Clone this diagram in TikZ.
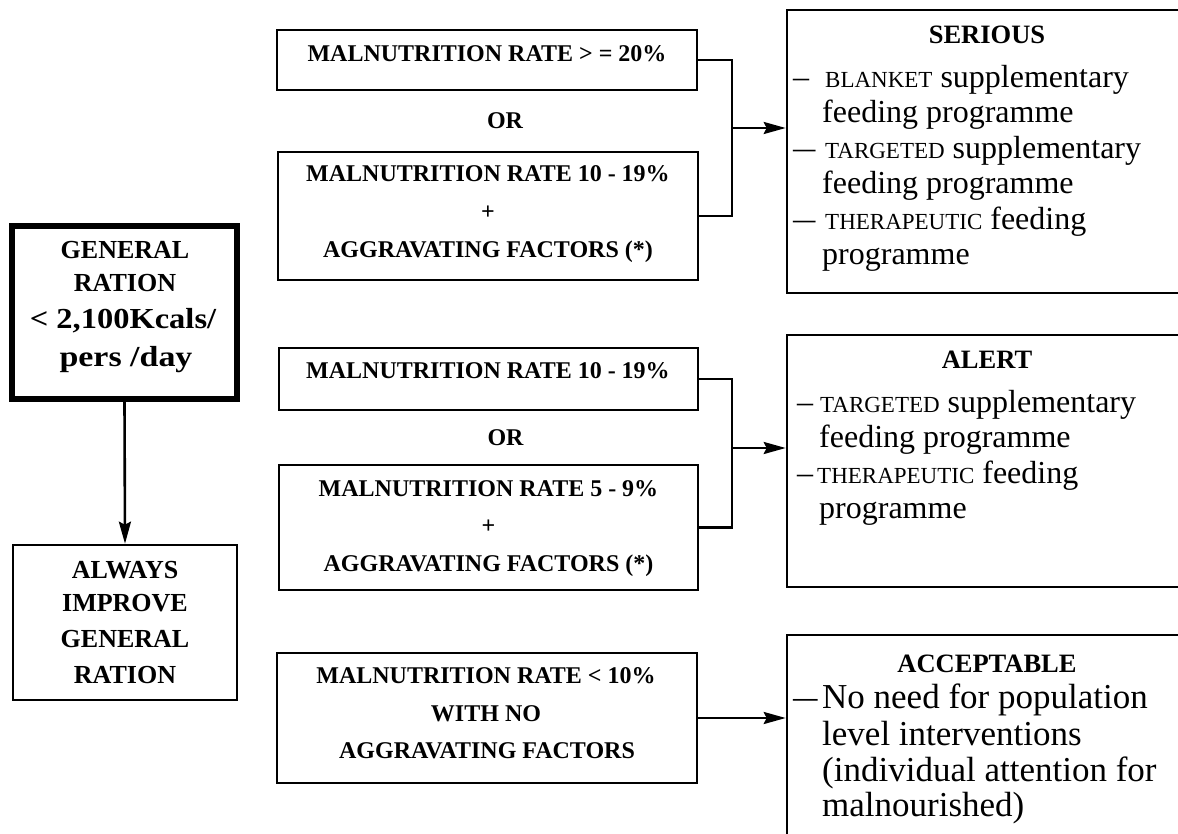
\documentclass[tikz,border=0pt]{standalone}
\usepackage{fontspec}
\setmainfont{Liberation Serif}
\usepackage{graphicx}
\usetikzlibrary{arrows.meta}
\tikzset{
  box/.style={draw, line width=2.6pt, rectangle, inner sep=0pt},
  thickbox/.style={draw, line width=5.5pt, rectangle, inner sep=0pt},
  conn/.style={line width=2.6pt},
  arr/.style={line width=2.6pt, -{Stealth[length=22pt,width=12pt,inset=3pt]}},
  mid/.style={anchor=base, inner sep=0pt, font=\fontsize{24}{28}\selectfont\bfseries},
  lft/.style={anchor=base, inner sep=0pt, font=\fontsize{26}{32}\selectfont\bfseries},
  lftb/.style={anchor=base, inner sep=0pt, font=\fontsize{29}{32}\selectfont\bfseries},
  ttl/.style={anchor=base, inner sep=0pt, font=\fontsize{26.5}{32}\selectfont\bfseries},
  body/.style={anchor=base west, inner sep=0pt, font=\fontsize{32}{36}\selectfont},
  bodyw/.style={anchor=base west, inner sep=0pt, font=\fontsize{35}{36}\selectfont},
}
\newcommand{\ldash}{\scalebox{0.7}[1]{---}}
\newcommand{\smc}[1]{{\fontsize{23}{36}\selectfont #1}}
\begin{document}
\begin{tikzpicture}[x=1pt,y=-1pt]
\useasboundingbox (0,0) rectangle (1178,833);
% left column
\node[thickbox, minimum width=225pt, minimum height=173pt] (gr) at (124.5,312.5) {};
\node[lft] (gr1) at (125,258) {GENERAL};
\node[lft] (gr2) at (125,291) {RATION};
\node[lftb] (gr3) at (123,328) {\scalebox{1.12}[1]{< 2,100Kcals/}};
\node[lftb] (gr4) at (126,366) {\scalebox{1.17}[1]{pers /day}};
\node[box, minimum width=224pt, minimum height=155pt] (ai) at (125,622.5) {};
\node[lft] (ai1) at (125,578) {ALWAYS};
\node[lft] (ai2) at (125,611) {IMPROVE};
\node[lft] (ai3) at (125,647) {GENERAL};
\node[lft] (ai4) at (125,683) {RATION};
\draw[arr] (gr.south) -- (ai.north);
% middle boxes
\node[box, minimum width=420pt, minimum height=60pt] (A) at (487,60) {};
\node[mid] (A1) at (487,61) {MALNUTRITION RATE > = 20\%};
\node[mid] (or1) at (505,128) {OR};
\node[box, minimum width=420pt, minimum height=128pt] (B) at (488,216) {};
\node[mid] (B1) at (488,181) {MALNUTRITION RATE 10 - 19\%};
\node[mid] (B2) at (488,219) {+};
\node[mid] (B3) at (488,257) {AGGRAVATING FACTORS (*)};
\node[box, minimum width=419pt, minimum height=62pt] (C) at (488.5,379) {};
\node[mid] (C1) at (488,378) {MALNUTRITION RATE 10 - 19\%};
\node[mid] (or2) at (505.5,445) {OR};
\node[box, minimum width=419pt, minimum height=125pt] (D) at (488.5,527.5) {};
\node[mid] (D1) at (488.5,496) {MALNUTRITION RATE 5 - 9\%};
\node[mid] (D2) at (488.5,533.5) {+};
\node[mid] (D3) at (488.5,571) {AGGRAVATING FACTORS (*)};
\node[box, minimum width=420pt, minimum height=130pt] (E) at (487,718) {};
\node[mid] (E1) at (486,683) {MALNUTRITION RATE < 10\%};
\node[mid] (E2) at (486,721) {WITH NO};
\node[mid] (E3) at (487,758) {AGGRAVATING FACTORS};
% right boxes
\node[box, minimum width=413pt, minimum height=283pt] (S) at (993.5,151.5) {};
\node[ttl] (St) at (987,43) {SERIOUS};
\node[body] (S1) at (793,87) {\makebox[32pt][l]{--}\smc{BLANKET} supplementary};
\node[body] (S2) at (822,122.5) {feeding programme};
\node[body] (S3) at (793,158) {\makebox[32pt][l]{\ldash}\smc{TARGETED} supplementary};
\node[body] (S4) at (822,193.5) {feeding programme};
\node[body] (S5) at (793,229) {\makebox[32pt][l]{\ldash}\smc{THERAPEUTIC} feeding};
\node[body] (S6) at (822,264.5) {programme};
\node[box, minimum width=413pt, minimum height=252pt] (AL) at (993.5,461) {};
\node[ttl] (ALt) at (987,368) {ALERT};
\node[body] (AL1) at (797,412) {\makebox[23pt][l]{--}\smc{TARGETED} supplementary};
\node[body] (AL2) at (819,447) {feeding programme};
\node[body] (AL3) at (797,483) {\makebox[20pt][l]{--}\smc{THERAPEUTIC} feeding};
\node[body] (AL4) at (819,518) {programme};
\node[box, minimum width=413pt, minimum height=225pt] (AC) at (993.5,747.5) {};
\node[ttl] (ACt) at (987,672) {ACCEPTABLE};
\node[bodyw] (AC1) at (793,708) {\makebox[29pt][l]{\ldash}No need for population};
\node[bodyw] (AC2) at (822,745) {level interventions};
\node[bodyw] (AC3) at (822,781) {(individual attention for};
\node[bodyw] (AC4) at (822,816) {malnourished)};
% connectors
\coordinate (k1) at (732,128);
\coordinate (k2) at (732,448);
\draw[conn] (A.east) -| (k1) |- (B.east);
\draw[arr] (k1) -- (k1 -| S.west);
\draw[conn] (C.east) -| (k2) |- (D.east);
\draw[arr] (k2) -- (k2 -| AL.west);
\draw[arr] (E.east) -- (E.east -| AC.west);
\end{tikzpicture}
\end{document}
